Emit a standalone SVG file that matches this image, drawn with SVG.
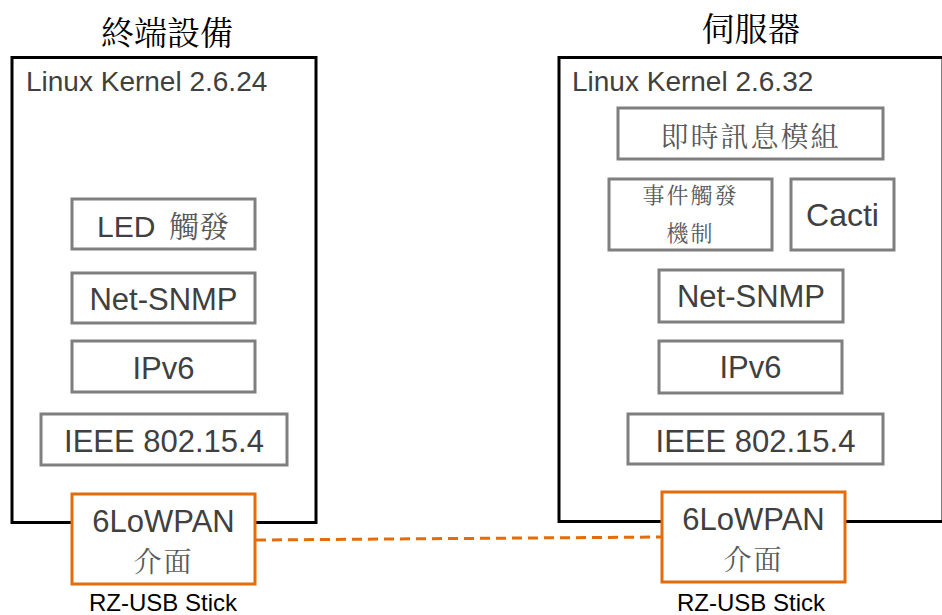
<svg xmlns="http://www.w3.org/2000/svg" width="942" height="615" viewBox="0 0 942 615">
<style>
  .outer { fill: #ffffff; stroke: #000000; stroke-width: 3; }
  .inner { fill: #ffffff; stroke: #7f7f7f; stroke-width: 3; }
  .usb { fill: #ffffff; stroke: #E46C0A; stroke-width: 3; }
  .lat { font-family: "Liberation Sans", Arial, sans-serif; fill: #404040; }
  .cjk { font-family: "Noto Serif CJK TC", "Noto Sans CJK TC", serif; fill: #595959; }
  .title { font-family: "Noto Serif CJK TC", "Noto Sans CJK TC", serif; fill: #000000; font-size: 33px; }
  .lbl { font-family: "Liberation Sans", Arial, sans-serif; fill: #000000; font-size: 24px; }
  .link { fill: none; stroke: #E46C0A; stroke-width: 3; stroke-dasharray: 10 6; }
</style>
<rect width="942" height="615" fill="#ffffff"/>

<g id="terminal">
  <text class="title" x="167" y="45" text-anchor="middle">終端設備</text>
  <rect class="outer" x="12" y="57.5" width="304" height="465"/>
  <text class="lat" x="26" y="91" font-size="28">Linux Kernel 2.6.24</text>
</g>
<g id="t-led">
  <rect class="inner" x="72" y="199" width="183" height="50"/>
  <text x="163" y="237" text-anchor="middle"><tspan class="lat" font-size="30">LED</tspan><tspan class="cjk" font-size="30" dx="6"> 觸發</tspan></text>
</g>
<g id="t-snmp">
  <rect class="inner" x="72" y="273" width="183" height="50"/>
  <text class="lat" x="163.5" y="310" font-size="31" text-anchor="middle">Net-SNMP</text>
</g>
<g id="t-ipv6">
  <rect class="inner" x="72" y="341" width="183" height="51"/>
  <text class="lat" x="163.5" y="379" font-size="31" text-anchor="middle">IPv6</text>
</g>
<g id="t-ieee">
  <rect class="inner" x="41" y="414" width="246" height="51"/>
  <text class="lat" x="164" y="452" font-size="31" text-anchor="middle">IEEE 802.15.4</text>
</g>

<g id="server">
  <text class="title" x="751" y="41" text-anchor="middle">伺服器</text>
  <rect class="outer" x="559" y="57.5" width="384" height="464"/>
  <text class="lat" x="572" y="91" font-size="28">Linux Kernel 2.6.32</text>
</g>
<g id="s-im">
  <rect class="inner" x="618" y="108" width="265" height="51"/>
  <text class="cjk" x="750.5" y="147" font-size="28" text-anchor="middle" letter-spacing="2">即時訊息模組</text>
</g>
<g id="s-event">
  <rect class="inner" x="609" y="179" width="163" height="71"/>
  <text class="cjk" x="690.5" y="203" font-size="22" text-anchor="middle" letter-spacing="2">事件觸發</text>
  <text class="cjk" x="690.5" y="241" font-size="22" text-anchor="middle" letter-spacing="2">機制</text>
</g>
<g id="s-cacti">
  <rect class="inner" x="791" y="179" width="103" height="71"/>
  <text class="lat" x="842.5" y="226" font-size="32" text-anchor="middle">Cacti</text>
</g>
<g id="s-snmp">
  <rect class="inner" x="659" y="270" width="184" height="52"/>
  <text class="lat" x="751" y="307" font-size="31" text-anchor="middle">Net-SNMP</text>
</g>
<g id="s-ipv6">
  <rect class="inner" x="659" y="341" width="183" height="52"/>
  <text class="lat" x="750.5" y="378" font-size="31" text-anchor="middle">IPv6</text>
</g>
<g id="s-ieee">
  <rect class="inner" x="628" y="414" width="255" height="50"/>
  <text class="lat" x="755.5" y="452" font-size="31" text-anchor="middle">IEEE 802.15.4</text>
</g>

<g id="t-usb">
  <rect class="usb" x="72" y="494" width="183" height="90"/>
  <text class="lat" x="163.5" y="532" font-size="31" text-anchor="middle">6LoWPAN</text>
  <text class="cjk" x="163.5" y="572" font-size="28" text-anchor="middle" letter-spacing="2">介面</text>
  <text class="lbl" x="163" y="611" text-anchor="middle">RZ-USB Stick</text>
</g>
<g id="s-usb">
  <rect class="usb" x="662" y="492" width="183" height="90"/>
  <text class="lat" x="753.5" y="530" font-size="31" text-anchor="middle">6LoWPAN</text>
  <text class="cjk" x="753.5" y="570" font-size="28" text-anchor="middle" letter-spacing="2">介面</text>
  <text class="lbl" x="751" y="611" text-anchor="middle">RZ-USB Stick</text>
</g>

<g id="connectors">
  <line class="link" x1="256" y1="540" x2="661" y2="537"/>
</g>
</svg>
